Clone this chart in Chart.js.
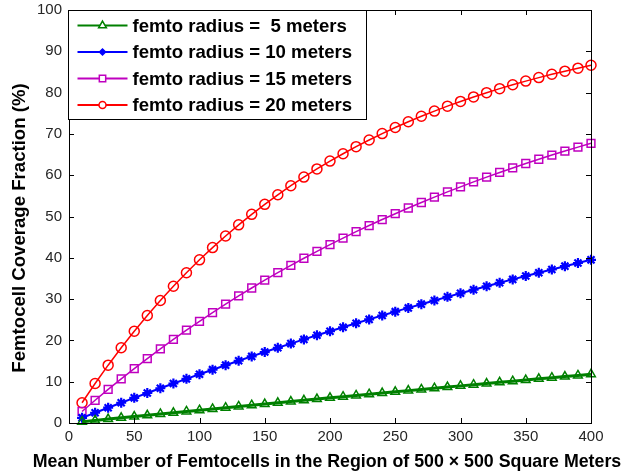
<!DOCTYPE html>
<html>
<head>
<meta charset="utf-8">
<script src="https://cdn.jsdelivr.net/npm/chart.js@4/dist/chart.umd.min.js"></script>
<style>
  html, body { margin: 0; padding: 0; background: #fff; }
  #wrap { width: 623px; height: 472px; }
</style>
</head>
<body>
<div id="wrap"><canvas id="coverageChart" width="623" height="472"></canvas></div>
<script>
// --- Data ---
const femtoCounts = [10, 20, 30, 40, 50, 60, 70, 80, 90, 100, 110, 120, 130, 140, 150, 160, 170, 180, 190, 200,
  210, 220, 230, 240, 250, 260, 270, 280, 290, 300, 310, 320, 330, 340, 350, 360, 370, 380, 390, 400];

const radius5 = [0.31, 0.63, 0.94, 1.25, 1.56, 1.87, 2.18, 2.48, 2.79, 3.09, 3.40, 3.70, 4.00, 4.30, 4.60, 4.90,
  5.20, 5.50, 5.79, 6.09, 6.38, 6.68, 6.97, 7.26, 7.55, 7.84, 8.13, 8.42, 8.71, 8.99, 9.28, 9.56, 9.85, 10.13,
  10.41, 10.69, 10.97, 11.25, 11.53, 11.81];
const radius10 = [1.25, 2.48, 3.70, 4.90, 6.09, 7.26, 8.42, 9.56, 10.69, 11.81, 12.91, 14.00, 15.07, 16.13, 17.18,
  18.21, 19.23, 20.24, 21.24, 22.22, 23.19, 24.15, 25.09, 26.02, 26.96, 27.87, 28.77, 29.66, 30.54, 31.41, 32.26,
  33.11, 33.95, 34.77, 35.59, 36.39, 37.18, 37.97, 38.74, 39.51];
const radius15 = [2.79, 5.50, 8.13, 10.69, 13.18, 15.60, 17.96, 20.24, 22.47, 24.63, 26.73, 28.77, 30.76, 32.69,
  34.57, 36.39, 38.16, 39.89, 41.56, 43.19, 44.78, 46.32, 47.81, 49.27, 50.68, 52.06, 53.39, 54.69, 55.96, 57.18,
  58.38, 59.54, 60.67, 61.76, 62.83, 63.86, 64.87, 65.85, 66.80, 67.73];
const radius20 = [4.90, 9.56, 14.00, 18.21, 22.22, 26.04, 29.66, 33.11, 36.39, 39.51, 42.47, 45.29, 47.98, 50.53,
  52.95, 55.26, 57.45, 59.54, 61.52, 63.41, 65.20, 66.91, 68.53, 70.07, 71.54, 72.93, 74.26, 75.52, 76.72, 77.86,
  78.95, 79.98, 80.96, 81.90, 82.78, 83.63, 84.43, 85.19, 85.92, 86.61];

const seriesLabels = ["femto radius =  5 meters", "femto radius = 10 meters", "femto radius = 15 meters", "femto radius = 20 meters"];
const xTitle = "Mean Number of Femtocells in the Region of 500 \u00d7 500 Square Meters";
const yTitle = "Femtocell Coverage Fraction (%)";

const FONT = "'Liberation Sans', Arial, sans-serif";
const toPoints = (ys) => femtoCounts.map((x, i) => ({ x: x, y: ys[i] }));

// --- Frame with inward ticks on all four sides, plus axis titles ---
const boxPlugin = {
  id: "boxTicks",
  afterDraw(chart) {
    const { ctx, chartArea: a, scales } = chart;
    ctx.save();
    ctx.strokeStyle = "#000";
    ctx.lineWidth = 1;
    ctx.beginPath();
    scales.x.ticks.forEach((t) => {
      const px = Math.round(scales.x.getPixelForValue(t.value)) + 0.5;
      ctx.moveTo(px, a.bottom); ctx.lineTo(px, a.bottom - 5);
      ctx.moveTo(px, a.top); ctx.lineTo(px, a.top + 5);
    });
    scales.y.ticks.forEach((t) => {
      const py = Math.round(scales.y.getPixelForValue(t.value)) + 0.5;
      ctx.moveTo(a.left, py); ctx.lineTo(a.left + 5, py);
      ctx.moveTo(a.right, py); ctx.lineTo(a.right - 5, py);
    });
    ctx.stroke();
    ctx.strokeRect(Math.round(a.left) + 0.5, Math.round(a.top) + 0.5,
      Math.round(a.right - a.left), Math.round(a.bottom - a.top));

    // axis titles
    ctx.fillStyle = "#000";
    ctx.font = "bold 17.8px " + FONT;
    ctx.textAlign = "center";
    ctx.textBaseline = "alphabetic";
    ctx.fillText(xTitle, (a.left + a.right) / 2 - 3, 467);
    ctx.translate(25, 228);
    ctx.rotate(-Math.PI / 2);
    ctx.font = "bold 18.6px " + FONT;
    ctx.fillText(yTitle, 0, 0);
    ctx.restore();
  },
};

// --- Legend inside the top-left corner ---
const legendPlugin = {
  id: "innerLegend",
  afterDraw(chart) {
    const { ctx, chartArea: a } = chart;
    const x0 = Math.round(a.left) - 0.5;
    const y0 = Math.round(a.top) + 0.5;
    ctx.save();
    ctx.fillStyle = "#fff";
    ctx.fillRect(x0, y0, 298, 109);
    ctx.strokeStyle = "#000";
    ctx.lineWidth = 1;
    ctx.strokeRect(x0, y0, 298, 109);
    chart.data.datasets.forEach((ds, i) => {
      const y = y0 + 15 + i * 26.5;
      ctx.strokeStyle = ds.borderColor;
      ctx.lineWidth = 2;
      ctx.beginPath();
      ctx.moveTo(x0 + 9, y); ctx.lineTo(x0 + 59, y);
      ctx.stroke();
      ctx.lineWidth = 1.5;
      ctx.fillStyle = ds.legendFill || "#fff";
      Chart.helpers.drawPoint(ctx, { pointStyle: ds.legendStyle, radius: ds.legendRadius, rotation: 0, borderWidth: 1.5 }, x0 + 34, y);
      ctx.fillStyle = "#000";
      ctx.font = "bold 18.6px " + FONT;
      ctx.textBaseline = "middle";
      ctx.fillText(ds.label, x0 + 64, y + 1);
    });
    ctx.restore();
  },
};

const makeSet = (label, ys, color, style, radius, pw, legendStyle, legendRadius, legendFill, width) => ({
  label: label,
  data: toPoints(ys),
  borderColor: color,
  backgroundColor: "rgba(0,0,0,0)",
  borderWidth: width,
  pointStyle: style,
  pointRadius: radius,
  pointBorderWidth: pw,
  pointBorderColor: color,
  pointBackgroundColor: "rgba(0,0,0,0)",
  tension: 0,
  legendStyle: legendStyle,
  legendRadius: legendRadius,
  legendFill: legendFill,
});

const ctx = document.getElementById("coverageChart").getContext("2d");
new Chart(ctx, {
  type: "line",
  data: {
    datasets: [
      makeSet(seriesLabels[0], radius5, "#008000", "triangle", 5, 1.5, "triangle", 4.5, "#fff", 3),
      makeSet(seriesLabels[1], radius10, "#0000ff", "star", 5, 2.2, "rectRot", 3, "#0000ff", 2),
      makeSet(seriesLabels[2], radius15, "#bf00bf", "rect", 5.5, 1.5, "rect", 4.5, "#fff", 1.5),
      makeSet(seriesLabels[3], radius20, "#ff0000", "circle", 5, 1.5, "circle", 3.5, "#fff", 1.5),
    ],
  },
  options: {
    responsive: false,
    animation: false,
    clip: false,
    layout: { padding: { left: 0, top: 10, right: 32, bottom: 0 } },
    plugins: { legend: { display: false }, tooltip: { enabled: false } },
    scales: {
      x: {
        type: "linear",
        min: 0,
        max: 400,
        ticks: { stepSize: 50, color: "#262626", font: { size: 15, family: FONT }, padding: 5 },
        grid: { display: false, drawTicks: false },
        border: { display: false },
        afterFit: (s) => { s.height = 49; s.paddingLeft = 0; s.paddingRight = 0; },
      },
      y: {
        min: 0,
        max: 100,
        ticks: { stepSize: 10, color: "#262626", font: { size: 15, family: FONT }, padding: 7 },
        grid: { display: false, drawTicks: false },
        border: { display: false },
        afterFit: (s) => { s.width = 69; s.paddingTop = 0; s.paddingBottom = 0; },
      },
    },
  },
  plugins: [boxPlugin, legendPlugin],
});
</script>
</body>
</html>
